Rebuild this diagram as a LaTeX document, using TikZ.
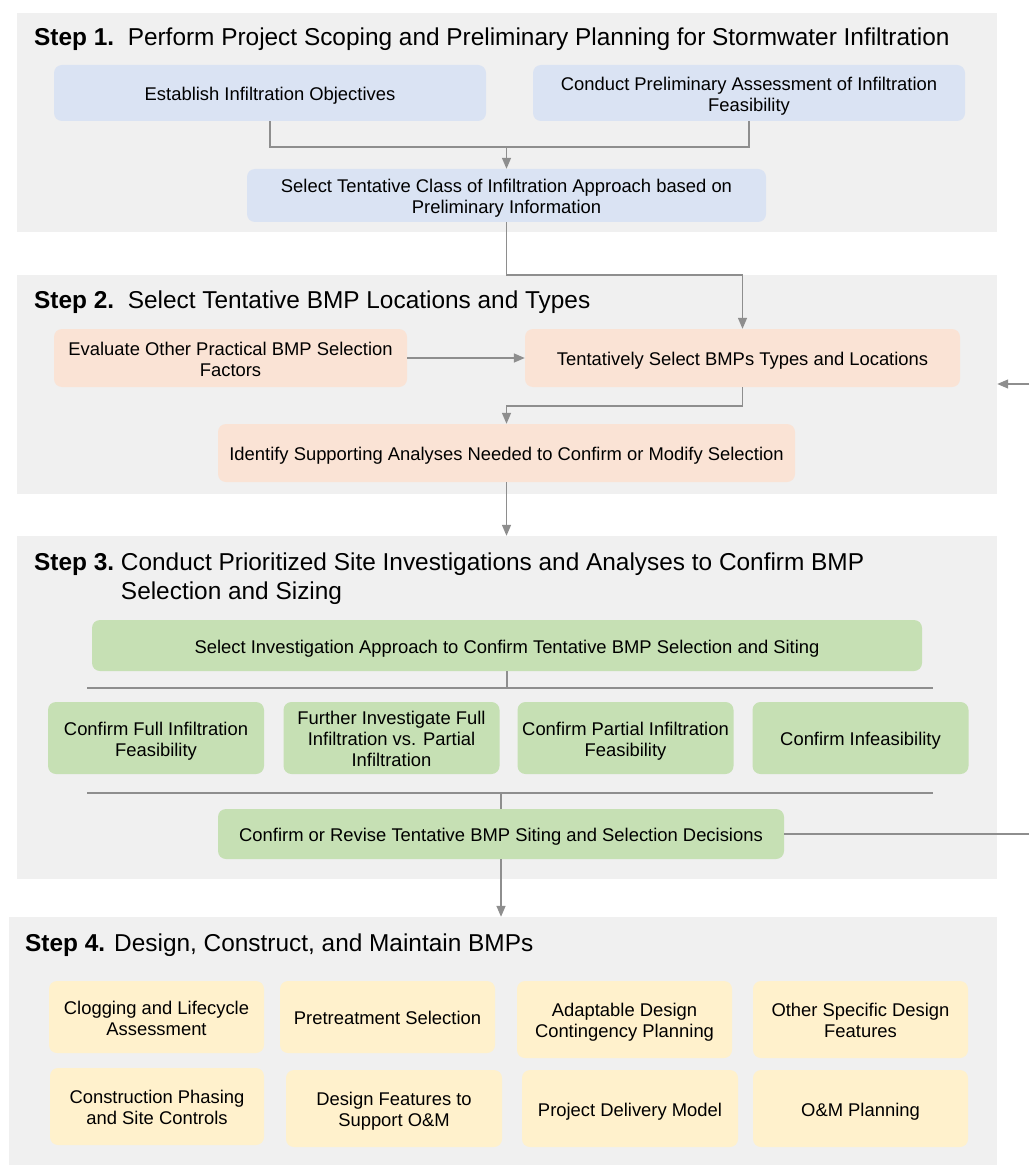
\documentclass[tikz,border=0pt]{standalone}
\usepackage{fontspec}
\setmainfont{Liberation Sans}
\usetikzlibrary{arrows.meta}

\definecolor{panelgray}{HTML}{F0F0F0}
\definecolor{linegray}{HTML}{8E8E8E}
\definecolor{stepblue}{HTML}{DAE3F3}
\definecolor{steporange}{HTML}{FAE3D5}
\definecolor{stepgreen}{HTML}{C6E0B4}
\definecolor{stepyellow}{HTML}{FFF1CC}

% box texts are set as a centred one-column table; the taller first row
% places the lines slightly below the middle of the box
\newcommand{\boxlines}[1]{\begin{tabular}{@{}c@{}}\rule{0pt}{22pt}#1\end{tabular}}

\tikzset{
  panel/.style={fill=panelgray, draw=none, inner sep=0pt},
  heading/.style={anchor=base west, inner sep=0pt, align=left,
    font=\fontsize{24.4}{29}\selectfont},
  box/.style={rounded corners=8pt, draw=none, inner sep=0pt,
    font=\fontsize{18.4}{21}\selectfont},
  bluebox/.style={box, fill=stepblue},
  orangebox/.style={box, fill=steporange},
  greenbox/.style={box, fill=stepgreen},
  yellowbox/.style={box, fill=stepyellow},
  conn/.style={draw=linegray, line width=1.4pt},
  flow/.style={conn, -{Triangle[length=11pt,width=9pt]}},
}

\begin{document}
\begin{tikzpicture}[x=1pt, y=-1pt]
\useasboundingbox (0,0) rectangle (1029,1166);

% ---- background panels ----
\node[panel, minimum width=980, minimum height=219] (p1) at (507,122.5) {};
\node[panel, minimum width=980, minimum height=219] (p2) at (507,384.5) {};
\node[panel, minimum width=980, minimum height=343] (p3) at (507,707.5) {};
\node[panel, minimum width=988, minimum height=248] (p4) at (503,1041) {};

% ---- Step 1 ----
\node[heading] (h1) at (34,46) {\textbf{Step 1.}\ \ Perform Project Scoping and Preliminary Planning for Stormwater Infiltration};
\node[bluebox, minimum width=432, minimum height=56] (obj) at (270,93) {\boxlines{Establish Infiltration Objectives}};
\node[bluebox, minimum width=432, minimum height=56] (feas) at (749,93) {\boxlines{Conduct Preliminary Assessment of Infiltration\\Feasibility}};
\node[bluebox, minimum width=519, minimum height=53] (cls) at (506.5,195.5) {\boxlines{Select Tentative Class of Infiltration Approach based on\\Preliminary Information}};

\coordinate (j1) at (506.5,147);
\draw[conn] (obj.south) |- (j1) -| (feas.south);
\draw[flow] (j1) -- (cls.north);

% ---- Step 2 ----
\node[heading] (h2) at (34,308) {\textbf{Step 2.}\ \ Select Tentative BMP Locations and Types};
\node[orangebox, minimum width=353, minimum height=58] (eval) at (230.5,358) {\boxlines{Evaluate Other Practical BMP Selection\\Factors}};
\node[orangebox, minimum width=435, minimum height=58] (tent) at (742.5,358) {\boxlines{Tentatively Select BMPs Types and Locations}};
\node[orangebox, minimum width=577, minimum height=58] (ident) at (506.5,453) {\boxlines{Identify Supporting Analyses Needed to Confirm or Modify Selection}};

\coordinate (j12) at (506.5,275);
\draw[flow] (cls.south) -- (j12) -| (tent.north);
\draw[flow] (eval.east) -- (tent.west);
\coordinate (j2) at (506.5,406);
\draw[flow] (tent.south) |- (j2) -- (ident.north);
\draw[flow] (ident.south) -- (ident.south |- p3.north);

% ---- Step 3 ----
\node[heading] (h3) at (34,570) {\begin{tabular}[t]{@{}l@{\ }l@{}}\textbf{Step 3.} & Conduct Prioritized Site Investigations and Analyses to Confirm BMP\\ & Selection and Sizing\end{tabular}};
\node[greenbox, minimum width=830, minimum height=51] (inv) at (507,645.5) {\boxlines{Select Investigation Approach to Confirm Tentative BMP Selection and Siting}};

\coordinate (b1l) at (87,688);
\coordinate (b1r) at (933,688);
\draw[conn] (b1l) -- (b1r);
\draw[conn] (inv.south) -- (inv.south |- b1l);

\node[greenbox, minimum width=216, minimum height=72] (f1) at (156,738) {\boxlines{Confirm Full Infiltration\\Feasibility}};
\node[greenbox, minimum width=216, minimum height=72] (f2) at (391.5,738) {\boxlines{Further Investigate Full\\Infiltration vs. Partial\\Infiltration}};
\node[greenbox, minimum width=216, minimum height=72] (f3) at (625.5,738) {\boxlines{Confirm Partial Infiltration\\Feasibility}};
\node[greenbox, minimum width=216, minimum height=72] (f4) at (860.5,738) {\boxlines{Confirm Infeasibility}};

\coordinate (b2l) at (87,793);
\coordinate (b2r) at (933,793);
\draw[conn] (b2l) -- (b2r);

\node[greenbox, minimum width=566, minimum height=50] (rev) at (501,834) {\boxlines{Confirm or Revise Tentative BMP Siting and Selection Decisions}};
\draw[conn] (rev.north |- b2l) -- (rev.north);

% feedback loop back to step 2
\coordinate (fbLow) at (1029,834);
\coordinate (fbHigh) at (1029,384);
\draw[conn] (rev.east) -- (fbLow);
\draw[flow] (fbHigh) -- (fbHigh -| p2.east);

\draw[flow] (rev.south) -- (rev.south |- p4.north);

% ---- Step 4 ----
\node[heading] (h4) at (25,951) {\textbf{Step 4.} Design, Construct, and Maintain BMPs};
\node[yellowbox, minimum width=215, minimum height=72] (c1) at (156.5,1017) {\boxlines{Clogging and Lifecycle\\Assessment}};
\node[yellowbox, minimum width=215, minimum height=72] (c2) at (387.5,1017) {\boxlines{Pretreatment Selection}};
\node[yellowbox, minimum width=215, minimum height=77] (c3) at (624.5,1019.5) {\boxlines{Adaptable Design\\Contingency Planning}};
\node[yellowbox, minimum width=215, minimum height=77] (c4) at (860.5,1019.5) {\boxlines{Other Specific Design\\Features}};
\node[yellowbox, minimum width=214, minimum height=77] (d1) at (157,1106.5) {\boxlines{Construction Phasing\\and Site Controls}};
\node[yellowbox, minimum width=216, minimum height=77] (d2) at (394,1108.5) {\boxlines{Design Features to\\Support O\&M}};
\node[yellowbox, minimum width=216, minimum height=77] (d3) at (630,1108.5) {\boxlines{Project Delivery Model}};
\node[yellowbox, minimum width=215, minimum height=77] (d4) at (860.5,1108.5) {\boxlines{O\&M Planning}};
\end{tikzpicture}
\end{document}
